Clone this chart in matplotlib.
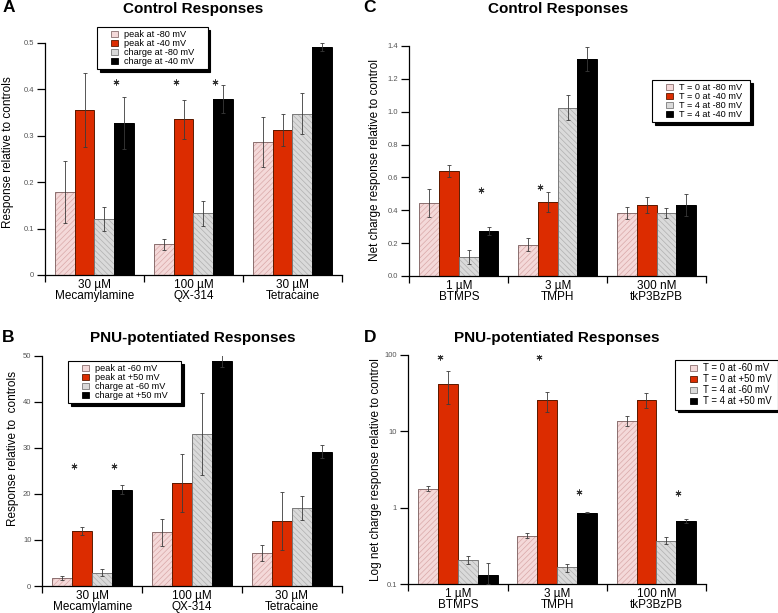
import matplotlib.pyplot as plt
import numpy as np
from matplotlib.patches import Patch, Rectangle
from matplotlib.legend_handler import HandlerPatch

plt.rcParams['font.family'] = ['Liberation Sans', 'DejaVu Sans']
plt.rcParams['hatch.linewidth'] = 0.5

# ---- data ----
groups_A = ["30 µM\nMecamylamine", "100 µM\nQX-314", "30 µM\nTetracaine"]
labels_A = ["peak at -80 mV", "peak at -40 mV", "charge at -80 mV", "charge at -40 mV"]
vals_A = [[0.179, 0.066, 0.287],
          [0.355, 0.336, 0.312],
          [0.121, 0.133, 0.348],
          [0.327, 0.380, 0.491]]
errs_A = [[0.066, 0.012, 0.054],
          [0.080, 0.042, 0.034],
          [0.026, 0.027, 0.045],
          [0.056, 0.030, 0.009]]
stars_A = [(0, 3), (1, 1), (1, 3)]
star_y_A = 0.416

groups_B = groups_A
labels_B = ["peak at -60 mV", "peak at +50 mV", "charge at -60 mV", "charge at +50 mV"]
vals_B = [[1.8, 11.7, 7.2],
          [12.0, 22.4, 14.1],
          [2.9, 33.0, 16.9],
          [20.9, 48.8, 29.2]]
errs_B = [[0.45, 2.95, 1.7],
          [0.85, 6.25, 6.3],
          [0.8, 8.9, 2.65],
          [1.0, 1.3, 1.5]]
stars_B = [(0, 1), (0, 3)]
star_y_B = 26.1

groups_C = ["1 µM\nBTMPS", "3 µM\nTMPH", "300 nM\ntkP3BzPB"]
labels_C = ["T = 0 at -80 mV", "T = 0 at -40 mV", "T = 4 at -80 mV", "T = 4 at -40 mV"]
vals_C = [[0.444, 0.190, 0.383],
          [0.638, 0.450, 0.432],
          [0.116, 1.025, 0.383],
          [0.273, 1.323, 0.432]]
errs_C = [[0.083, 0.040, 0.035],
          [0.038, 0.062, 0.048],
          [0.044, 0.074, 0.032],
          [0.025, 0.073, 0.067]]
stars_C = [(0, 3), (1, 1)]
star_y_C = [0.524, 0.54]

groups_D = ["1 µM\nBTMPS", "3 µM\nTMPH", "100 nM\ntkP3BzPB"]
labels_D = ["T = 0 at -60 mV", "T = 0 at +50 mV", "T = 4 at -60 mV", "T = 4 at +50 mV"]
vals_D = [[1.78, 0.43, 13.8],
          [42.3, 25.6, 26.1],
          [0.208, 0.165, 0.369],
          [0.132, 0.86, 0.668]]
low_D = [[1.65, 0.396, 11.7],
         [22.9, 18.0, 20.5],
         [0.184, 0.145, 0.330],
         [0.10, 0.84, 0.63]]
high_D = [[1.92, 0.466, 16.1],
          [61.4, 32.9, 32.2],
          [0.235, 0.184, 0.417],
          [0.19, 0.887, 0.71]]
stars_D = [(0, 1), (1, 1), (1, 3), (2, 3)]
star_y_D = [94.7, 94.7, 1.6, 1.55]

# ---- styling ----
faces = ['#f4d9d9', '#dc2c00', '#dadada', '#000000']
hatchc = ['#d9a8a8', '#dc2c00', '#b0b0b0', '#000000']
hatches = ['//////', None, '\\\\\\\\\\\\', None]
edges = ['#8a6f6f', '#5a1a00', '#7a7a7a', '#000000']
offsets = [-0.3, -0.1, 0.1, 0.3]
W = 0.2

fig = plt.figure(figsize=(7.78, 6.13), dpi=100)


class SquareRight(HandlerPatch):
    # small square marker drawn at the right end of the handle box
    def create_artists(self, legend, orig_handle, xdescent, ydescent, width,
                       height, fontsize, trans):
        sq = height * 0.95
        p = Rectangle((-xdescent + width - sq, -ydescent + (height - sq) / 2), sq, sq)
        self.update_prop(p, orig_handle, legend)
        p.set_transform(trans)
        return [p]


def panel(rect, groups, vals, errs, ylim, yticks, yticklabels, log=False,
          lo=None, hi=None):
    ax = fig.add_axes(rect)
    if log:
        ax.set_yscale('log')
    base = ylim[0] if log else 0
    for k in range(4):
        x = np.arange(3) + offsets[k]
        h = np.array(vals[k]) - base
        ax.bar(x, h, W, bottom=base, color=faces[k], edgecolor=hatchc[k],
               hatch=hatches[k], linewidth=0, zorder=2)
        ax.bar(x, h, W, bottom=base, facecolor='none', edgecolor=edges[k],
               linewidth=0.7, zorder=3)
        if log:
            yerr = [np.array(vals[k]) - np.array(lo[k]), np.array(hi[k]) - np.array(vals[k])]
        else:
            yerr = errs[k]
        ax.errorbar(x, vals[k], yerr=yerr, fmt='none', ecolor='#3a3a3a',
                    elinewidth=0.6, capsize=1.6, capthick=0.6, zorder=4)
    ax.set_xlim(-0.5, 2.5)
    ax.set_ylim(*ylim)
    ax.set_yticks(yticks)
    ax.set_yticklabels(yticklabels)
    ax.minorticks_off()
    ax.set_xticks([-0.5, 0.5, 1.5, 2.5])
    ax.set_xticklabels([])
    ax.tick_params(axis='x', direction='out', length=5, width=0.9)
    ax.tick_params(axis='y', direction='out', length=6, width=0.9,
                   labelsize=5.5, labelcolor='#555555', pad=2)
    for i, g in enumerate(groups):
        ax.text(i, -0.018, g, transform=ax.get_xaxis_transform(), ha='center',
                va='top', fontsize=8.5, linespacing=0.92)
    for s in ['top', 'right']:
        ax.spines[s].set_visible(False)
    for s in ['left', 'bottom']:
        ax.spines[s].set_linewidth(0.9)
    return ax


def stars(ax, items, ys):
    for (g, k), y in zip(items, ys):
        ax.plot(g + offsets[k] - W / 2 + 0.02, y, marker=(6, 2, 0), ms=4.2,
                mew=0.7, color='#333333', zorder=5)


def legend(ax, labels, anchor, fs, sp, pad):
    hs = [Patch(facecolor=faces[k], edgecolor=edges[k], linewidth=0.6) for k in range(4)]
    ax.legend(hs, [l + pad for l in labels], loc='upper left', bbox_to_anchor=anchor,
              bbox_transform=fig.transFigure, fontsize=fs, frameon=True,
              fancybox=False, framealpha=1, edgecolor='black',
              shadow={'color': 'black', 'alpha': 1}, handlelength=1.9,
              handleheight=0.75, handletextpad=0.7, labelspacing=sp,
              borderpad=0.35, borderaxespad=0,
              handler_map={Patch: SquareRight()})
    ax.get_legend().get_frame().set_linewidth(0.8)


# A
axA = panel([0.0578, 0.5514, 0.3817, 0.3785], groups_A, vals_A, errs_A,
            (0, 0.5), [0, 0.1, 0.2, 0.3, 0.4, 0.5], ['0', '0.1', '0.2', '0.3', '0.4', '0.5'])
stars(axA, stars_A, [star_y_A] * len(stars_A))
legend(axA, labels_A, (97 / 778, 1 - 27 / 613), 6.6, 0.0, '    ')

# C
axC = panel([0.5263, 0.5498, 0.3811, 0.3752], groups_C, vals_C, errs_C,
            (0, 1.4), np.arange(0, 1.41, 0.2), ['%.1f' % v for v in np.arange(0, 1.41, 0.2)])
stars(axC, stars_C, star_y_C)
legend(axC, labels_C, (652 / 778, 1 - 80 / 613), 6.6, 0.0, '  ')

# B
axB = panel([0.0546, 0.0440, 0.3846, 0.3757], groups_B, vals_B, errs_B,
            (0, 50), [0, 10, 20, 30, 40, 50], ['0', '10', '20', '30', '40', '50'])
stars(axB, stars_B, [star_y_B] * len(stars_B))
legend(axB, labels_B, (68 / 778, 1 - 361 / 613), 6.6, 0.0, '    ')

# D
axD = panel([0.5248, 0.0473, 0.3827, 0.3736], groups_D, vals_D, None,
            (0.1, 100), [0.1, 1, 10, 100], ['0.1', '1', '10', '100'], log=True,
            lo=low_D, hi=high_D)
stars(axD, stars_D, star_y_D)
legend(axD, labels_D, (675 / 778, 1 - 360 / 613), 6.9, 0.1, ' ')

# titles, panel letters, y labels
for x, y, t in [(193.5, 9, 'Control Responses'), (558, 9, 'Control Responses'),
                (193, 338, 'PNU-potentiated Responses'), (557, 338, 'PNU-potentiated Responses')]:
    fig.text(x / 778, 1 - y / 613, t, ha='center', va='center', fontsize=11, fontweight='bold')
for x, y, t in [(9, 8, 'A'), (370, 8, 'C'), (8, 337, 'B'), (370, 337, 'D')]:
    fig.text(x / 778, 1 - y / 613, t, ha='center', va='center', fontsize=12.5, fontweight='bold')
for x, y, t in [(8, 152, 'Response relative to controls'),
                (375, 160, 'Net charge response relative to control'),
                (13, 448, 'Response relative to  controls'),
                (376, 470, 'Log net charge response relative to control')]:
    fig.text(x / 778, 1 - y / 613, t, ha='center', va='center', fontsize=8.5, rotation=90)

fig.savefig('out.png', dpi=100)
